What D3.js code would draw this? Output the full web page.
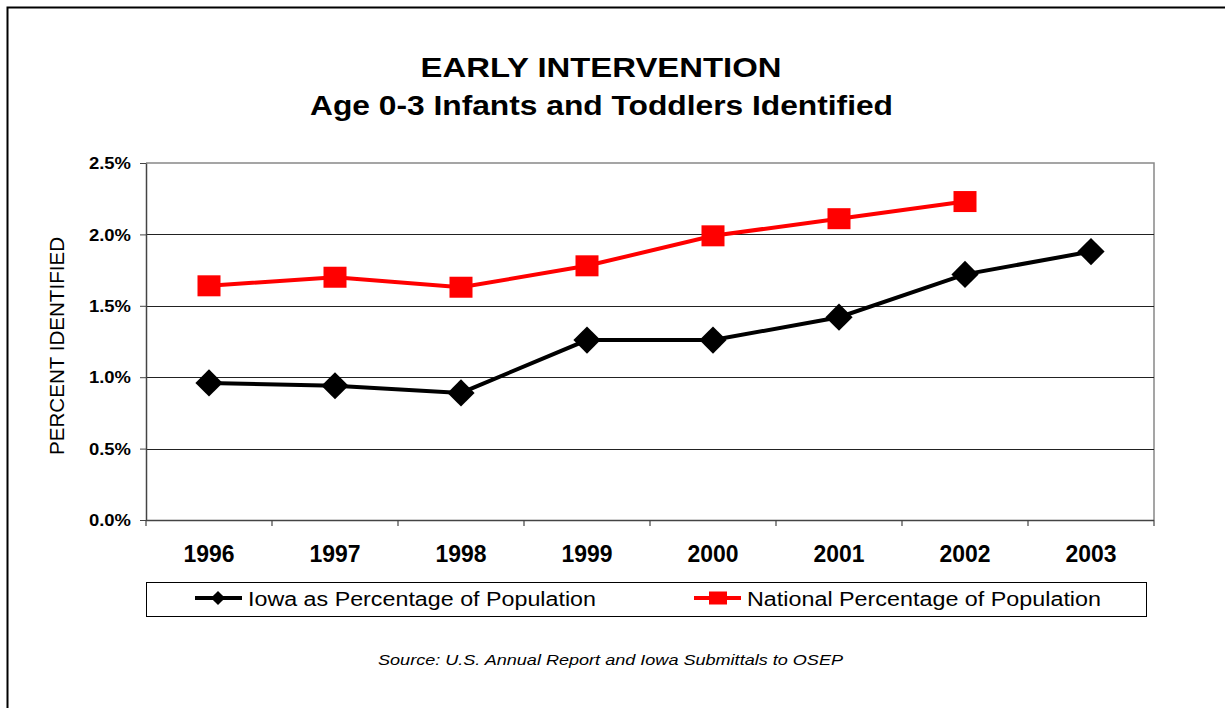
<!DOCTYPE html>
<html>
<head>
<meta charset="utf-8">
<script src="https://cdn.jsdelivr.net/npm/d3@7"></script>
<style>
  body { margin: 0; background: #fff; }
  svg { display: block; font-family: Arial, "Liberation Sans", sans-serif; }
</style>
</head>
<body>
<svg id="chart" width="1225" height="708"></svg>
<script>
(function(){
"use strict";

const years = ["1996", "1997", "1998", "1999", "2000", "2001", "2002", "2003"];
const iowaPct = [0.96, 0.94, 0.89, 1.26, 1.26, 1.42, 1.72, 1.88];
const nationalPct = [1.64, 1.70, 1.63, 1.78, 1.99, 2.11, 2.23, null];
const yTicks = [0, 0.5, 1.0, 1.5, 2.0, 2.5];
const seriesNames = ["Iowa as Percentage of Population", "National Percentage of Population"];

let svg = d3.select("#chart");
let left = 146, right = 1154, top = 163, bottom = 520;

// outer frame
svg.append("rect")
  .attr("x", 7.5).attr("y", 7.5)
  .attr("width", 1240).attr("height", 720)
  .attr("fill", "none").attr("stroke", "#000").attr("stroke-width", 2);

let x = d3.scaleBand().domain(years).range([left, right]);
let y = d3.scaleLinear().domain([0, 2.5]).range([bottom, top]);

// plot frame (top and right in gray)
svg.append("path")
  .attr("d", `M${left},${top}H${right}V${bottom}`)
  .attr("fill", "none").attr("stroke", "#888").attr("stroke-width", 1.5);

// gridlines
svg.append("g").selectAll("line")
  .data(yTicks.filter(t => t > 0 && t < 2.5))
  .enter().append("line")
    .attr("x1", left).attr("x2", right)
    .attr("y1", d => Math.round(y(d)) + 0.5).attr("y2", d => Math.round(y(d)) + 0.5)
    .attr("stroke", "#222").attr("stroke-width", 1);

// y axis
let yAxis = svg.append("g")
  .attr("transform", `translate(${left},0)`)
  .call(d3.axisLeft(y).tickValues(yTicks).tickFormat(d => d.toFixed(1) + "%").tickSize(6).tickSizeOuter(0));
yAxis.select(".domain").attr("stroke", "#444").attr("stroke-width", 1.5);
yAxis.selectAll(".tick line").attr("stroke", "#444");
yAxis.selectAll("text")
  .attr("x", -15).attr("dy", "0.36em")
  .attr("font-size", 16).attr("font-weight", "bold").attr("fill", "#000")
  .attr("font-family", "Arial, 'Liberation Sans', sans-serif")
  .attr("textLength", 42).attr("lengthAdjust", "spacingAndGlyphs");

// x axis: ticks at band edges
let xAxisG = svg.append("g");
xAxisG.append("line")
  .attr("x1", left).attr("x2", right)
  .attr("y1", bottom + 0.5).attr("y2", bottom + 0.5)
  .attr("stroke", "#444").attr("stroke-width", 1.5);
xAxisG.selectAll("line.tk")
  .data(years.map(yr => x(yr)).concat([right]))
  .enter().append("line").attr("class", "tk")
    .attr("x1", d => d).attr("x2", d => d)
    .attr("y1", bottom).attr("y2", bottom + 6)
    .attr("stroke", "#444").attr("stroke-width", 1.2);
xAxisG.selectAll("text")
  .data(years)
  .enter().append("text")
    .attr("x", d => x(d) + x.bandwidth() / 2)
    .attr("y", 562)
    .attr("text-anchor", "middle")
    .attr("font-size", 23).attr("font-weight", "bold")
    .attr("textLength", 51).attr("lengthAdjust", "spacingAndGlyphs")
    .text(d => d);

let cx = i => x(years[i]) + x.bandwidth() / 2;

// lines
let line = d3.line()
  .defined(d => d != null)
  .x((d, i) => cx(i))
  .y(d => y(d));

svg.append("path").datum(nationalPct)
  .attr("d", line).attr("fill", "none")
  .attr("stroke", "#ff0000").attr("stroke-width", 4);

svg.append("path").datum(iowaPct)
  .attr("d", line).attr("fill", "none")
  .attr("stroke", "#000").attr("stroke-width", 4);

let diamond = d3.symbol().type(d3.symbolSquare).size(370);

svg.append("g").selectAll("rect")
  .data(nationalPct.map((v, i) => ({v, i})).filter(d => d.v != null))
  .enter().append("rect")
    .attr("x", d => cx(d.i) - 11.5).attr("y", d => y(d.v) - 10.5)
    .attr("width", 23).attr("height", 21)
    .attr("fill", "#ff0000");

svg.append("g").selectAll("path")
  .data(iowaPct)
  .enter().append("path")
    .attr("d", diamond)
    .attr("transform", (d, i) => `translate(${cx(i)},${y(d)}) rotate(45)`)
    .attr("fill", "#000");

// titles
svg.append("text")
  .attr("x", 601).attr("y", 77)
  .attr("text-anchor", "middle")
  .attr("font-size", 28).attr("font-weight", "bold")
  .attr("textLength", 361).attr("lengthAdjust", "spacingAndGlyphs")
  .text("EARLY INTERVENTION");
svg.append("text")
  .attr("x", 601.5).attr("y", 115)
  .attr("text-anchor", "middle")
  .attr("font-size", 28).attr("font-weight", "bold")
  .attr("textLength", 583).attr("lengthAdjust", "spacingAndGlyphs")
  .text("Age 0-3 Infants and Toddlers Identified");

svg.append("text")
  .attr("transform", "translate(64,346) rotate(-90)")
  .attr("text-anchor", "middle")
  .attr("font-size", 20)
  .attr("textLength", 218).attr("lengthAdjust", "spacingAndGlyphs")
  .text("PERCENT IDENTIFIED");

// legend
let lg = svg.append("g");
lg.append("rect")
  .attr("x", 146.5).attr("y", 582.5).attr("width", 1000).attr("height", 34)
  .attr("fill", "#fff").attr("stroke", "#000").attr("stroke-width", 1);

let legendItems = [
  {name: seriesNames[0], x0: 195, tx: 248, tw: 348, color: "#000", shape: "diamond"},
  {name: seriesNames[1], x0: 694, tx: 747, tw: 354, color: "#ff0000", shape: "square"}
];
legendItems.forEach(it => {
  let g = lg.append("g").attr("transform", `translate(${it.x0},598)`);
  g.append("line").attr("x1", 0).attr("x2", 47).attr("y1", 0).attr("y2", 0)
    .attr("stroke", it.color).attr("stroke-width", 4);
  if (it.shape === "diamond") {
    g.append("path").attr("d", d3.symbol().type(d3.symbolSquare).size(100))
      .attr("transform", "translate(23,0) rotate(45)").attr("fill", it.color);
  } else {
    g.append("rect").attr("x", 15).attr("y", -6.5).attr("width", 18).attr("height", 13)
      .attr("fill", it.color);
  }
  lg.append("text").attr("x", it.tx).attr("y", 606)
    .attr("font-size", 20)
    .attr("textLength", it.tw).attr("lengthAdjust", "spacingAndGlyphs")
    .text(it.name);
});

svg.append("text")
  .attr("x", 610.5).attr("y", 665)
  .attr("text-anchor", "middle")
  .attr("font-size", 15).attr("font-style", "italic")
  .attr("textLength", 465).attr("lengthAdjust", "spacingAndGlyphs")
  .text("Source: U.S. Annual Report and Iowa Submittals to OSEP");

})();
</script>
</body>
</html>
